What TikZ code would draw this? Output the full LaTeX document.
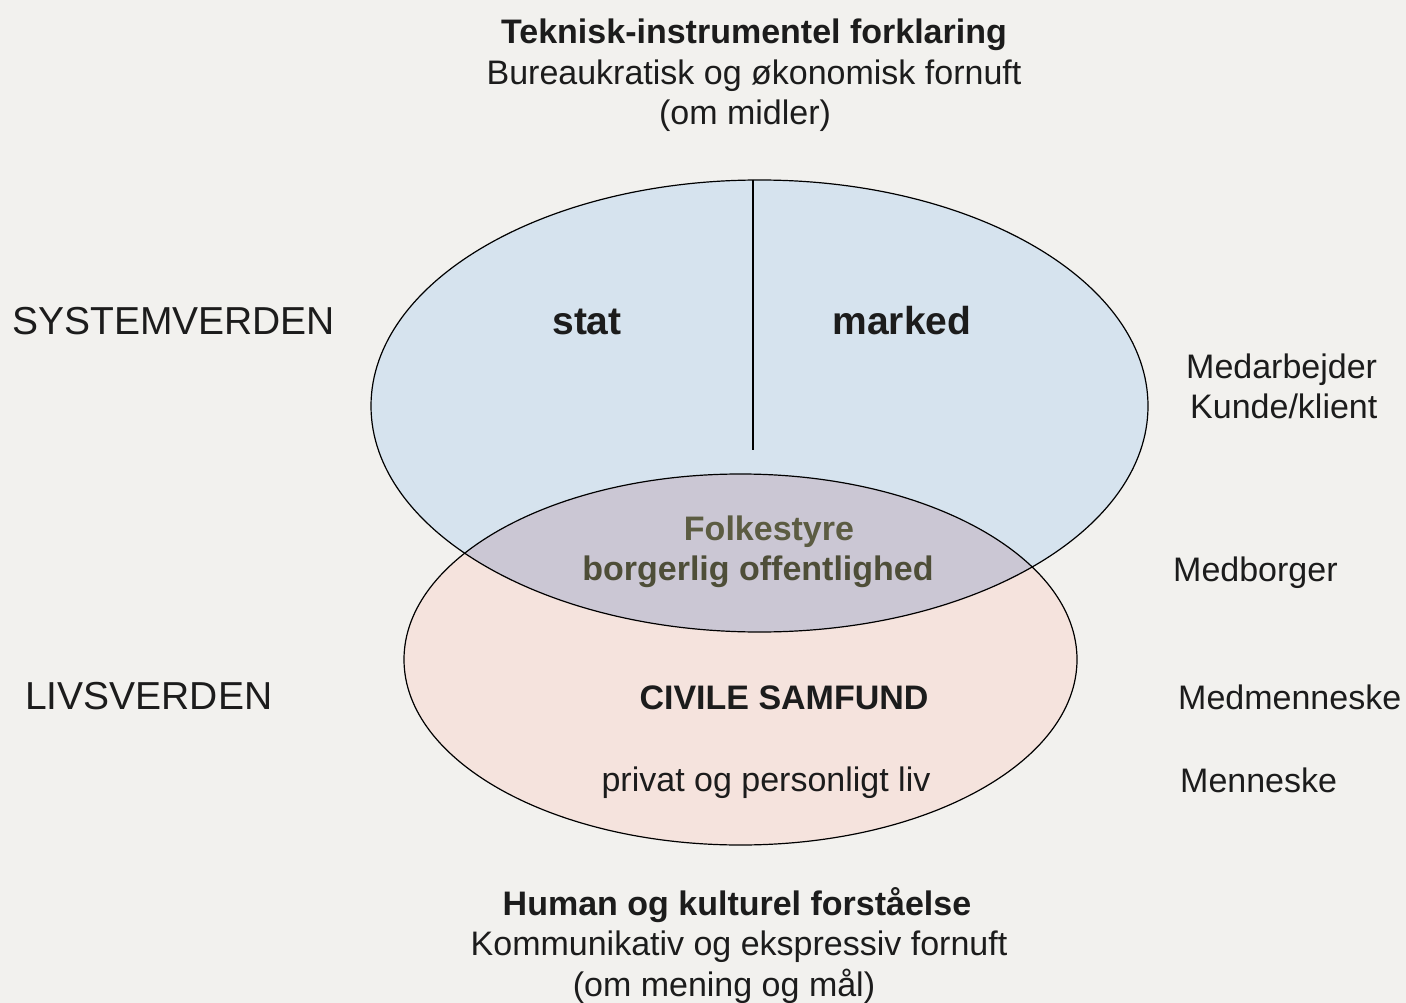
\documentclass[tikz,border=0pt]{standalone}
\usepackage{fontspec}
\setmainfont{Liberation Sans}
\definecolor{paper}{RGB}{242,241,238}
\definecolor{sysblue}{RGB}{214,227,238}
\definecolor{livpink}{RGB}{245,227,221}
\definecolor{overlap}{RGB}{203,199,212}
\definecolor{ink}{RGB}{28,28,28}
\definecolor{olive}{RGB}{92,92,66}
\tikzset{
  txt/.style={inner sep=0pt, text=ink, font=\fontsize{34}{40}\selectfont},
  txtb/.style={inner sep=0pt, text=ink, font=\fontsize{34}{40}\selectfont\bfseries},
  big/.style={inner sep=0pt, text=ink, font=\fontsize{39}{46}\selectfont},
  bigb/.style={inner sep=0pt, text=ink, font=\fontsize{39}{46}\selectfont\bfseries},
  outline/.style={draw=black, line width=1.2pt}
}
\begin{document}
\begin{tikzpicture}[x=1pt,y=-1pt]
\fill[paper] (0,0) rectangle (1406,1003);
\useasboundingbox (0,0) rectangle (1406,1003);
% fills
\fill[sysblue] (759.5,406) ellipse [x radius=388.5, y radius=226];
\fill[livpink] (740.5,659.5) ellipse [x radius=336.5, y radius=185.5];
\begin{scope}
  \clip (759.5,406) ellipse [x radius=388.5, y radius=226];
  \fill[overlap] (740.5,659.5) ellipse [x radius=336.5, y radius=185.5];
\end{scope}
% outlines
\draw[outline] (759.5,406) ellipse [x radius=388.5, y radius=226];
\draw[outline] (740.5,659.5) ellipse [x radius=336.5, y radius=185.5];
\coordinate (divtop) at (753,180);
\coordinate (divbot) at (753,450);
\draw[outline] (divtop) -- (divbot);
% top texts
\node[txtb, anchor=base] (t1) at (754,44) {Teknisk-instrumentel forklaring};
\node[txt, anchor=base] (t2) at (754,85) {Bureaukratisk og økonomisk fornuft};
\node[txt, anchor=base] (t3) at (745,125) {(om midler)};
% bottom texts
\node[txtb, anchor=base] (b1) at (737,915) {Human og kulturel forståelse};
\node[txt, anchor=base] (b2) at (739,955) {Kommunikativ og ekspressiv fornuft};
\node[txt, anchor=base] (b3) at (724,996) {(om mening og mål)};
% left labels
\node[big, anchor=base west] (sys) at (12,334) {SYSTEMVERDEN};
\node[big, anchor=base west] (liv) at (25,709) {LIVSVERDEN};
% inside ellipses
\node[bigb, anchor=base] (stat) at (587,334) {stat};
\node[bigb, anchor=base] (marked) at (902,334) {marked};
\node[txtb, anchor=base, text=olive] (folk) at (769,540) {Folkestyre};
\node[txtb, anchor=base, text=olive!85!black] (borg) at (758,580) {borgerlig offentlighed};
\node[txtb, anchor=base] (civ) at (784,709) {CIVILE SAMFUND};
\node[txt, anchor=base] (priv) at (766,791) {privat og personligt liv};
% right labels
\node[txt, anchor=base west] (medarb) at (1186,378) {Medarbejder};
\node[txt, anchor=base west] (kunde) at (1190,418) {Kunde/klient};
\node[txt, anchor=base west] (medb) at (1173,581) {Medborger};
\node[txt, anchor=base west] (medm) at (1178,709) {Medmenneske};
\node[txt, anchor=base west] (menn) at (1180,792) {Menneske};
\end{tikzpicture}
\end{document}
